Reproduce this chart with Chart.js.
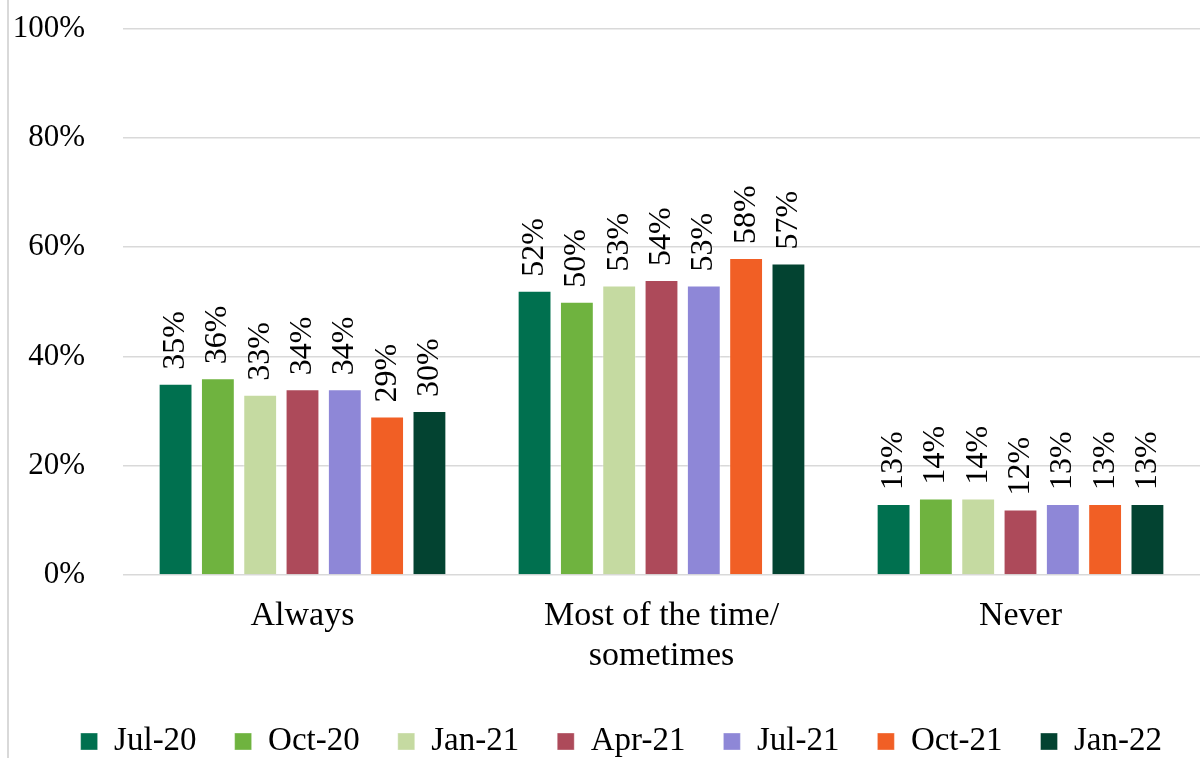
<!DOCTYPE html>
<html>
<head>
<meta charset="utf-8">
<script src="https://cdn.jsdelivr.net/npm/chart.js@4/dist/chart.umd.min.js"></script>
<style>
  html, body { margin: 0; padding: 0; background: #fff; overflow: hidden; }
  #wrap { position: relative; width: 1200px; height: 758px; overflow: hidden; }
  #edge { position: absolute; left: 7px; top: 0; width: 2px; height: 758px; background: #d9d9d9; }
  canvas { position: absolute; left: 0; top: -28px; }
</style>
</head>
<body>
<div id="wrap">
  <canvas id="freqChart" width="1200" height="796"></canvas>
  <div id="edge"></div>
</div>
<script>
var categories = ['Always', ['Most of the time/', 'sometimes'], 'Never'];
var periods = ['Jul-20', 'Oct-20', 'Jan-21', 'Apr-21', 'Jul-21', 'Oct-21', 'Jan-22'];
var jul20 = [35, 52, 13];
var oct20 = [36, 50, 14];
var jan21 = [33, 53, 14];
var apr21 = [34, 54, 12];
var jul21 = [34, 53, 13];
var oct21 = [29, 58, 13];
var jan22 = [30, 57, 13];
var yTicks = [0, 20, 40, 60, 80, 100];

var colors = ['#00704F', '#6FB33F', '#C5DAA1', '#AD4A5A', '#8E87D7', '#F15F25', '#034331'];
var series = [jul20, oct20, jan21, apr21, jul21, oct21, jan22];
var serif = "'Liberation Serif', 'Times New Roman', serif";

// rotated value labels above each bar
var barLabels = {
  id: 'barLabels',
  afterDatasetsDraw: function(chart) {
    var ctx = chart.ctx;
    ctx.save();
    ctx.font = '32px ' + serif;
    ctx.fillStyle = '#000';
    ctx.textAlign = 'left';
    ctx.textBaseline = 'middle';
    chart.data.datasets.forEach(function(ds, i) {
      chart.getDatasetMeta(i).data.forEach(function(bar, j) {
        ctx.save();
        ctx.translate(bar.x, bar.y - 14);
        ctx.rotate(-Math.PI / 2);
        ctx.fillText(ds.data[j] + '%', 0, 0);
        ctx.restore();
      });
    });
    ctx.restore();
  }
};

var ctx = document.getElementById('freqChart').getContext('2d');
var myChart = new Chart(ctx, {
  type: 'bar',
  data: {
    labels: categories,
    datasets: periods.map(function(p, i) {
      return {
        label: p,
        data: series[i],
        backgroundColor: colors[i],
        borderColor: 'rgba(255,255,255,0.35)',
        borderWidth: 1,
        categoryPercentage: 0.825,
        barPercentage: 0.8
      };
    })
  },
  options: {
    responsive: false,
    animation: false,
    layout: { padding: { top: 3.4, left: 0, right: 0, bottom: 0 } },
    scales: {
      y: {
        min: 0,
        max: 100,
        afterBuildTicks: function(s) { s.ticks = yTicks.map(function(v) { return { value: v }; }); },
        afterFit: function(s) { s.width = 123; },
        border: { display: false },
        grid: { color: '#d9d9d9', lineWidth: 1.5, drawTicks: false },
        ticks: {
          padding: 38,
          color: '#000',
          font: { family: serif, size: 31 },
          callback: function(v) { return v + '%'; }
        }
      },
      x: {
        afterFit: function(s) { s.height = 112; },
        border: { display: false },
        grid: { display: false },
        ticks: {
          padding: 13,
          color: '#000',
          maxRotation: 0,
          font: { family: serif, size: 34, lineHeight: 40 / 34 }
        }
      }
    },
    plugins: {
      legend: {
        position: 'bottom',
        align: 'end',
        labels: {
          boxWidth: 17,
          boxHeight: 17,
          padding: 38,
          color: '#000',
          font: { family: serif, size: 33 }
        }
      },
      tooltip: { enabled: false }
    }
  },
  plugins: [barLabels]
});
</script>
</body>
</html>
